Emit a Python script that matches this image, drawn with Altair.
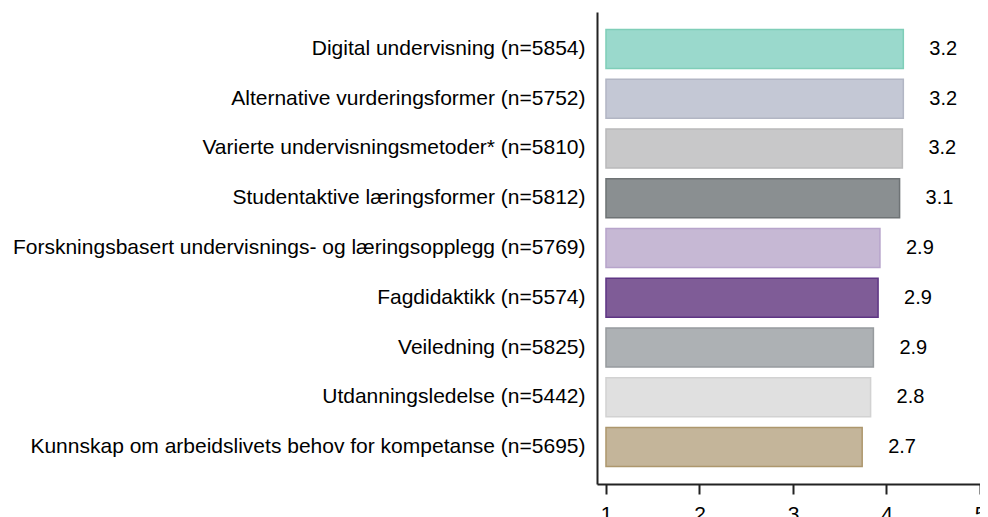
import altair as alt
import pandas as pd

categories = [
    "Digital undervisning (n=5854)",
    "Alternative vurderingsformer (n=5752)",
    "Varierte undervisningsmetoder* (n=5810)",
    "Studentaktive læringsformer (n=5812)",
    "Forskningsbasert undervisnings- og læringsopplegg (n=5769)",
    "Fagdidaktikk (n=5574)",
    "Veiledning (n=5825)",
    "Utdanningsledelse (n=5442)",
    "Kunnskap om arbeidslivets behov for kompetanse (n=5695)",
]
means = [3.18, 3.18, 3.17, 3.14, 2.93, 2.91, 2.86, 2.83, 2.74]
fills = ["#9ad9cc", "#c4c8d5", "#c8c8c9", "#8a8f91", "#c6b8d4",
         "#7f5c97", "#adb1b4", "#e0e0e0", "#c4b59a"]
strokes = ["#7fceb8", "#b2b6c4", "#b9b9bb", "#6e7375", "#b7a4cb",
           "#5e3584", "#979b9e", "#d2d2d2", "#ad976d"]
tick_values = [1, 2, 3, 4, 5]

df = pd.DataFrame({"kategori": categories, "snitt": means})

FONT = "Liberation Sans"

y_enc = alt.Y(
    "kategori:N",
    sort=categories,
    title=None,
    scale=alt.Scale(paddingInner=0.216, paddingOuter=0.35),
    axis=alt.Axis(
        labelFontSize=21, labelFont=FONT, labelColor="#000",
        labelPadding=12, ticks=False, domainColor="#222",
        domainWidth=2, labelLimit=800,
    ),
)

x_enc = alt.X(
    "pos:Q",
    title=None,
    scale=alt.Scale(domain=[0.904, 5.0], nice=False, zero=False),
    axis=alt.Axis(
        values=tick_values, grid=False, domainColor="#222", domainWidth=2,
        tickColor="#222", tickWidth=2, tickSize=10, labelFontSize=21,
        labelFont=FONT, labelColor="#000", labelPadding=9, format="d",
        labelOverlap=False, labelBound=False, labelFlush=False,
    ),
)

base = alt.Chart(df).transform_calculate(pos="datum.snitt + 1")

bars = base.mark_bar(strokeWidth=1.5, opacity=1).encode(
    x=x_enc,
    x2=alt.datum(1),
    y=y_enc,
    color=alt.Color("kategori:N", scale=alt.Scale(domain=categories, range=fills), legend=None),
    stroke=alt.Stroke("kategori:N", scale=alt.Scale(domain=categories, range=strokes), legend=None),
)

labels = base.mark_text(align="left", baseline="middle", dx=26, fontSize=20, font=FONT, color="#000").encode(
    x="pos:Q",
    y=alt.Y("kategori:N", sort=categories),
    text=alt.Text("snitt:Q", format=".1f"),
)

chart = (
    alt.layer(bars, labels)
    .properties(
        width=383,
        height=472,
        autosize=alt.AutoSizeParams(type="none"),
        padding={"left": 589, "top": 4, "right": 0, "bottom": 40},
        background="white",
    )
    .configure_view(stroke="transparent", strokeWidth=0)
)

chart.save("out.html", embed_options={"renderer": "svg", "actions": False})
